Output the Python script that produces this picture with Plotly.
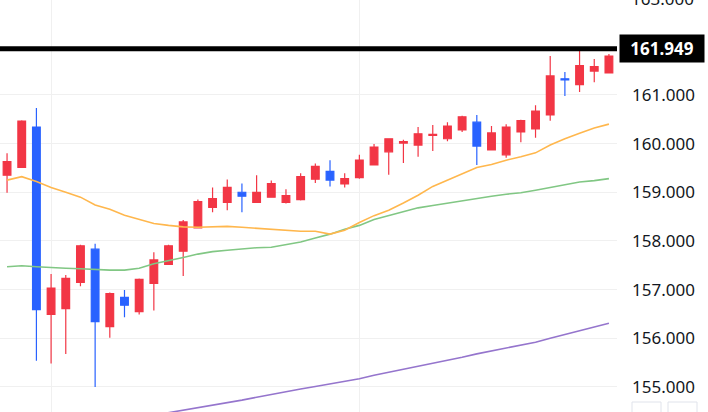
import plotly.graph_objects as go

# candle index (one per session)
sessions = list(range(42))

opens = [159.35, 159.51, 160.34, 156.49, 156.61, 157.15, 157.83, 156.24, 156.84, 156.55,
         157.13, 157.52, 157.79, 158.27, 158.69, 158.79, 159.00, 158.79, 158.90, 158.79,
         158.85, 159.27, 159.43, 159.17, 159.30, 159.56, 159.83, 160.01, 159.97, 160.17,
         160.10, 160.28, 160.44, 159.87, 159.77, 160.24, 160.30, 160.59, 161.33, 161.21,
         161.49, 161.45]
highs = [159.80, 160.48, 160.73, 157.32, 157.30, 157.92, 157.94, 156.94, 156.99, 157.23,
         157.77, 157.92, 158.43, 158.85, 159.10, 159.26, 159.18, 159.35, 159.24, 159.06,
         159.39, 159.59, 159.66, 159.39, 159.77, 159.99, 160.10, 160.08, 160.34, 160.38,
         160.44, 160.57, 160.59, 160.36, 160.40, 160.49, 160.79, 161.80, 161.47, 161.92,
         161.74, 161.84]
lows = [158.99, 159.51, 155.54, 155.48, 155.68, 157.07, 155.00, 156.01, 156.43, 156.49,
        156.57, 157.52, 157.28, 158.27, 158.59, 158.63, 158.59, 158.79, 158.90, 158.77,
        158.83, 159.19, 159.12, 159.10, 159.28, 159.56, 159.36, 159.60, 159.73, 159.85,
        160.05, 160.24, 159.56, 159.87, 159.71, 160.03, 160.12, 160.47, 160.98, 161.06,
        161.26, 161.45]
closes = [159.63, 160.46, 156.59, 157.03, 157.23, 157.90, 156.34, 156.92, 156.68, 157.21,
          157.61, 157.90, 158.39, 158.81, 158.87, 159.10, 158.92, 159.00, 159.18, 158.93,
          159.32, 159.53, 159.25, 159.28, 159.66, 159.93, 160.10, 160.04, 160.20, 160.19,
          160.36, 160.55, 159.95, 160.22, 160.34, 160.47, 160.67, 161.39, 161.31, 161.60,
          161.58, 161.80]

maFast = [159.25, 159.32, 159.22, 159.10, 159.00, 158.90, 158.74, 158.65, 158.53, 158.44,
          158.36, 158.32, 158.29, 158.28, 158.29, 158.30, 158.28, 158.26, 158.23, 158.21,
          158.20, 158.20, 158.14, 158.22, 158.38, 158.52, 158.63, 158.78, 158.94, 159.12,
          159.25, 159.39, 159.51, 159.57, 159.66, 159.73, 159.81, 159.97, 160.10, 160.21,
          160.32, 160.40]
maMid = [157.47, 157.49, 157.47, 157.45, 157.44, 157.43, 157.41, 157.40, 157.40, 157.44,
         157.53, 157.59, 157.66, 157.73, 157.78, 157.81, 157.84, 157.86, 157.87, 157.92,
         157.98, 158.06, 158.14, 158.24, 158.32, 158.44, 158.52, 158.61, 158.68, 158.73,
         158.78, 158.82, 158.88, 158.92, 158.96, 158.99, 159.04, 159.10, 159.16, 159.21,
         159.24, 159.28]
maSlow = [None, None, None, None, None, None, None, None, None, None,
          154.42, 154.47, 154.52, 154.57, 154.63, 154.68, 154.73, 154.79, 154.85, 154.90,
          154.96, 155.01, 155.06, 155.11, 155.17, 155.24, 155.30, 155.36, 155.42, 155.49,
          155.55, 155.61, 155.68, 155.74, 155.80, 155.86, 155.92, 156.00, 156.08, 156.16,
          156.23, 156.31]

lastPrice = 161.949
priceTicks = [155, 156, 157, 158, 159, 160, 161]
priceTickText = ["155.000", "156.000", "157.000", "158.000", "159.000", "160.000", "161.000"]
topLabel = "163.000"
monthStarts = [3, 24]

UP = "#f23645"
DOWN = "#2962ff"
GRID = "#f0f0f0"
TEXT = "#131722"
FONT = "Noto Sans"


def addAverages(fig):
    for values, color in [(maSlow, "#9575cd"), (maMid, "#81c784"), (maFast, "#ffb74d")]:
        fig.add_trace(go.Scatter(x=sessions, y=values, mode="lines",
                                 line=dict(color=color, width=1.6), hoverinfo="skip"))


def addCandles(fig):
    fig.add_trace(go.Candlestick(x=sessions, open=opens, high=highs, low=lows, close=closes,
                                 increasing=dict(line=dict(color=UP, width=1.2), fillcolor=UP),
                                 decreasing=dict(line=dict(color=DOWN, width=1.2), fillcolor=DOWN)))


def addLastPrice(fig):
    fig.add_shape(type="line", xref="paper", x0=0, x1=1, yref="y", y0=lastPrice, y1=lastPrice,
                  line=dict(color="black", width=5))
    fig.add_annotation(xref="paper", x=1, xanchor="left", xshift=2, yref="y", y=lastPrice,
                       text=f"<b>{lastPrice:.3f}</b>", showarrow=False, bgcolor="black",
                       width=84, height=27, borderpad=0,
                       font=dict(family=FONT, size=17, color="white"))
    # the next tick up is only half inside the window
    fig.add_annotation(xref="paper", x=1, xanchor="left", xshift=12,
                       yref="paper", y=1, yanchor="middle", yshift=2,
                       text=topLabel, showarrow=False,
                       font=dict(family=FONT, size=17, color=TEXT))


def addButtons(fig):
    for x0, x1 in [(632, 661), (668, 697)]:
        fig.add_shape(type="rect", xref="paper", yref="paper",
                      x0=x0 / 617, x1=x1 / 617, y0=-0.03, y1=(412 - 402) / 412,
                      line=dict(color="#e0e3eb", width=1), fillcolor="white")


def buildPlot():
    fig = go.Figure()
    addAverages(fig)
    addCandles(fig)
    addLastPrice(fig)
    addButtons(fig)
    fig.update_layout(width=708, height=412, margin=dict(l=0, r=91, t=0, b=0),
                      paper_bgcolor="white", plot_bgcolor="white", showlegend=False,
                      boxgap=0.25, font=dict(family=FONT, size=17, color=TEXT))
    fig.update_xaxes(range=[-0.48, 41.55], tickvals=monthStarts, showticklabels=False,
                     showgrid=True, gridcolor=GRID, zeroline=False, rangeslider_visible=False,
                     ticks="")
    fig.update_yaxes(side="right", range=[154.486, 162.95], tickvals=priceTicks,
                     ticktext=priceTickText, showgrid=True, gridcolor=GRID, zeroline=False,
                     ticks="", ticklabelstandoff=14,
                     tickfont=dict(family=FONT, size=17, color=TEXT))
    return fig


if __name__ == "__main__":
    # drop the default page margin so the chart sits at the window's corner
    buildPlot().write_html("out.html", config={"displayModeBar": False},
                           post_script="document.body.style.margin='0';")
